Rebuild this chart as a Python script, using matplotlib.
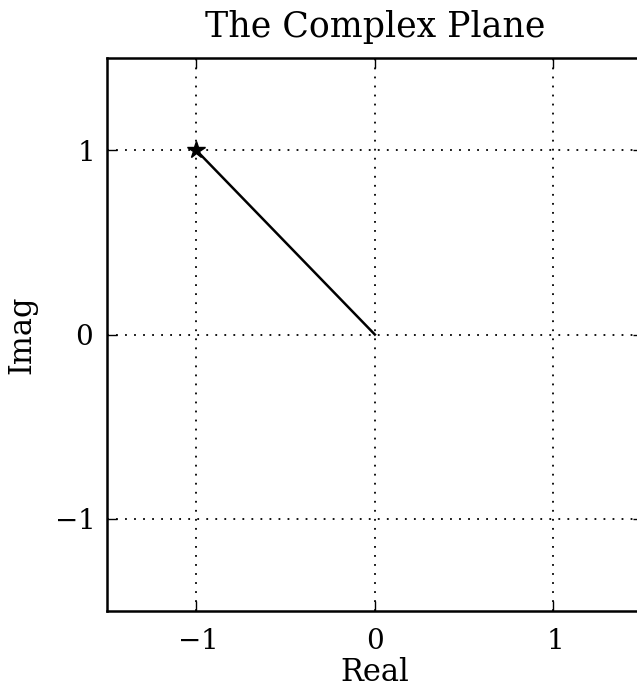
import numpy as np
import matplotlib
matplotlib.use("Agg")
import matplotlib.pyplot as plt

# point in the complex plane
z_real = [0, -1]
z_imag = [0, 1]

x_ticks = [-1, 0, 1]
y_ticks = [-1, 0, 1]

plt.rcParams['font.family'] = ['DejaVu Serif']
plt.rcParams['mathtext.fontset'] = 'dejavuserif'

fig = plt.figure(figsize=(6.37, 6.92), dpi=100)
ax = fig.add_axes([0.168, 0.117, 0.841, 0.799])

ax.plot(z_real, z_imag, color='black', lw=1.8)
ax.plot(z_real[-1], z_imag[-1], marker='*', color='black', ms=13)

ax.set_xlim(-1.5, 1.5)
ax.set_ylim(-1.5, 1.5)
ax.set_xticks(x_ticks)
ax.set_yticks(y_ticks)
ax.set_xticklabels([f"${v}$" for v in x_ticks])
ax.set_yticklabels([f"${v}$" for v in y_ticks])
ax.tick_params(direction='in', length=7, width=1, top=True, right=True,
               labelsize=20)
ax.tick_params(axis='x', pad=12)
ax.tick_params(axis='y', pad=10)
ax.grid(True, color='black', linestyle=(0, (1, 4)), linewidth=1.3)
for s in ax.spines.values():
    s.set_linewidth(1.8)

ax.set_title('The Complex Plane', fontsize=25, pad=15)
ax.set_xlabel('Real', fontsize=22, labelpad=2)
ax.set_ylabel('Imag', fontsize=22, labelpad=12)

fig.savefig('out.png', dpi=100)
